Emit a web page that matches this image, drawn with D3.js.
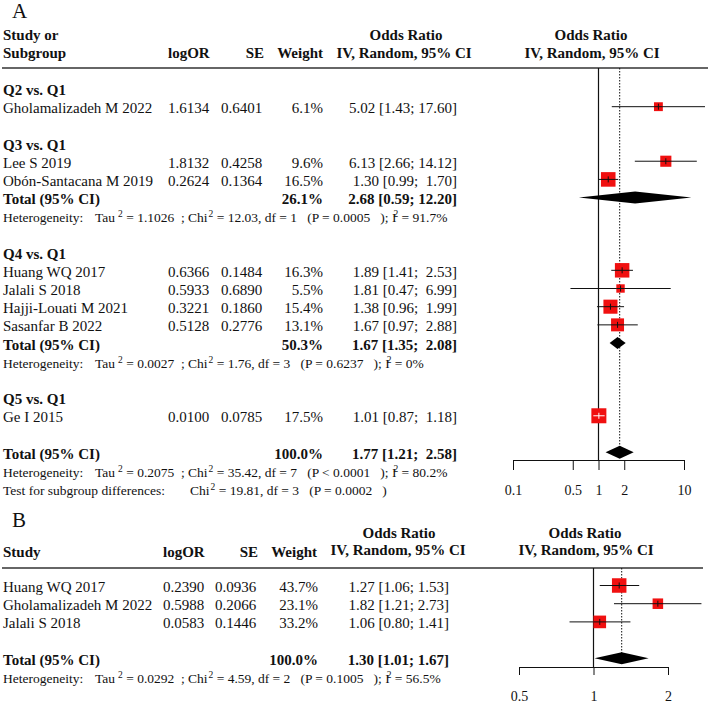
<!DOCTYPE html>
<html>
<head>
<meta charset="utf-8">
<script src="https://cdn.jsdelivr.net/npm/d3@7"></script>
<style>
  body { margin: 0; background: #fff; }
  svg text { font-family: "Liberation Serif", "Times New Roman", serif; fill: #111; white-space: pre; }
</style>
</head>
<body>
<svg id="chart" width="708" height="703"></svg>
<script>
// ---- panel A data
const groupsA = ["Q2 vs. Q1", "Q3 vs. Q1", "Q4 vs. Q1", "Q5 vs. Q1"];
const studiesA = ["Gholamalizadeh M 2022", "Lee S 2019", "Obón-Santacana M 2019", "Huang WQ 2017",
  "Jalali S 2018", "Hajji-Louati M 2021", "Sasanfar B 2022", "Ge I 2015"];
const studyGroupA = [0, 1, 1, 2, 2, 2, 2, 3];
const logOrA = ["1.6134", "1.8132", "0.2624", "0.6366", "0.5933", "0.3221", "0.5128", "0.0100"];
const seA = ["0.6401", "0.4258", "0.1364", "0.1484", "0.6890", "0.1860", "0.2776", "0.0785"];
const weightA = [6.1, 9.6, 16.5, 16.3, 5.5, 15.4, 13.1, 17.5];
const orA = [5.02, 6.13, 1.30, 1.89, 1.81, 1.38, 1.67, 1.01];
const loA = [1.43, 2.66, 0.99, 1.41, 0.47, 0.96, 0.97, 0.87];
const hiA = [17.60, 14.12, 1.70, 2.53, 6.99, 1.99, 2.88, 1.18];
// subgroup totals (only groups with >1 study: Q3, Q4), then overall
const subWeightA = [26.1, 50.3];
const subOrA = [2.68, 1.67];
const subLoA = [0.59, 1.35];
const subHiA = [12.20, 2.08];
const totWeightA = 100.0, totOrA = 1.77, totLoA = 1.21, totHiA = 2.58;
// heterogeneity lines: Q3, Q4, overall
const hetTauA = ["1.1026", "0.0027", "0.2075"];
const hetChiA = ["12.03", "1.76", "35.42"];
const hetDfA = [1, 3, 7];
const hetPA = ["= 0.0005", "= 0.6237", "< 0.0001"];
const hetI2A = ["91.7%", "0%", "80.2%"];
const testChi = "19.81", testDf = 3, testP = "= 0.0002";
const ticksA = [0.1, 0.5, 1, 2, 10];

// ---- panel B data
const studiesB = ["Huang WQ 2017", "Gholamalizadeh M 2022", "Jalali S 2018"];
const logOrB = ["0.2390", "0.5988", "0.0583"];
const seB = ["0.0936", "0.2066", "0.1446"];
const weightB = [43.7, 23.1, 33.2];
const orB = [1.27, 1.82, 1.06];
const loB = [1.06, 1.21, 0.80];
const hiB = [1.53, 2.73, 1.41];
const totWeightB = 100.0, totOrB = 1.30, totLoB = 1.01, totHiB = 1.67;
const hetTauB = "0.0292", hetChiB = "4.59", hetDfB = 2, hetPB = "= 0.1005", hetI2B = "56.5%";
const ticksB = [0.5, 1, 2];

const svg = d3.select("#chart");
const RED = "#f01010";

function ciText(or, lo, hi, pad) {
  const h = hi.toFixed(2);
  return or.toFixed(2) + " [" + lo.toFixed(2) + "; " + (pad ? h.padStart(5, " ") : h) + "]";
}

// text built from segments, some of them superscript
function richText(g, x, y, segs, size) {
  const t = g.append("text").attr("x", x).attr("y", y).style("font-size", size + "px");
  let up = false;
  segs.forEach(s => {
    const ts = t.append("tspan").text(s.t);
    if (s.x != null) ts.attr("x", s.x);
    if (s.dx) ts.attr("dx", s.dx);
    if (s.sup) {
      ts.style("font-size", (size - 4) + "px");
      if (!up) { ts.attr("dy", -5); up = true; }
    } else if (up) { ts.attr("dy", 5); up = false; }
  });
}

function hetSegs(tau, chi, df, p, i2) {
  return [{t: "Heterogeneity:"}, {t: "Tau", x: 95}, {t: "2", sup: true, dx: 3}, {t: " = " + tau + "  ;"},
    {t: "Chi", x: 188}, {t: "2", sup: true, dx: 1},
    {t: " = " + chi + ", df = " + df + "   (P " + p + "   ); I"}, {t: "2", sup: true, dx: -3}, {t: " = " + i2}];
}

function drawStudy(g, x, size, cy, or, lo, hi, w) {
  const s = size(w);
  const inside = x(hi) - x(lo) < s;
  g.append("line").attr("x1", x(lo)).attr("x2", x(hi)).attr("y1", cy).attr("y2", cy)
    .attr("stroke", "#111").attr("stroke-width", 1);
  g.append("rect").attr("x", x(or) - s / 2).attr("y", cy - s / 2).attr("width", s).attr("height", s)
    .attr("fill", RED);
  const c = inside ? "#fff" : "#111";
  g.append("line").attr("x1", Math.max(x(lo), x(or) - s / 2)).attr("x2", Math.min(x(hi), x(or) + s / 2))
    .attr("y1", cy).attr("y2", cy).attr("stroke", c).attr("stroke-width", 1);
  g.append("line").attr("x1", x(or)).attr("x2", x(or)).attr("y1", cy - 3).attr("y2", cy + 3)
    .attr("stroke", c).attr("stroke-width", 1);
}

function drawDiamond(g, x, cy, or, lo, hi, h) {
  g.append("path")
    .attr("d", `M${x(lo)},${cy}L${x(or)},${cy - h}L${x(hi)},${cy}L${x(or)},${cy + h}Z`)
    .attr("fill", "#000");
}

function styleAxis(a) {
  a.attr("font-family", null).attr("font-size", null);
  a.selectAll("text").style("font-size", "14px");
  a.selectAll("path, line").attr("stroke", "#111");
}

// ================= panel A
const A = svg.append("g");
const xA = d3.scaleLog().domain([0.1, 10]).range([513, 684]);
const sizeA = d3.scaleSqrt().domain([0, 17.5]).range([0, 15]);
const yA = d3.scaleLinear().domain([0, 22]).range([95, 495]);
const off = 6.5;
const hs = 13.5;

A.append("text").attr("x", 12).attr("y", 18).style("font-size", "21px").text("A");
const hdA = A.append("g").style("font-size", "15px").style("font-weight", "bold");
hdA.append("text").attr("x", 3).attr("y", 40).text("Study or");
hdA.append("text").attr("x", 3).attr("y", 58).text("Subgroup");
hdA.append("text").attr("x", 168).attr("y", 58).text("logOR");
hdA.append("text").attr("x", 264).attr("y", 58).attr("text-anchor", "end").text("SE");
hdA.append("text").attr("x", 323).attr("y", 58).attr("text-anchor", "end").text("Weight");
hdA.append("text").attr("x", 406).attr("y", 40).attr("text-anchor", "middle").text("Odds Ratio");
hdA.append("text").attr("x", 404).attr("y", 58).attr("text-anchor", "middle").text("IV, Random, 95% CI");
hdA.append("text").attr("x", 591).attr("y", 40).attr("text-anchor", "middle").text("Odds Ratio");
hdA.append("text").attr("x", 592).attr("y", 58).attr("text-anchor", "middle").text("IV, Random, 95% CI");
A.append("line").attr("x1", 2).attr("x2", 708).attr("y1", 68).attr("y2", 68)
  .attr("stroke", "#333").attr("stroke-width", 1.5);

// reference lines
A.append("line").attr("x1", xA(1)).attr("x2", xA(1)).attr("y1", 68).attr("y2", 460)
  .attr("stroke", "#111").attr("stroke-width", 1.2);
A.append("line").attr("x1", xA(totOrA)).attr("x2", xA(totOrA)).attr("y1", 68).attr("y2", yA(20) - off)
  .attr("stroke", "#111").attr("stroke-width", 1).attr("stroke-dasharray", "1.5,1.5");

const rowsA = A.append("g").style("font-size", "15px");
let r = 0, sub = 0;
groupsA.forEach((gname, gi) => {
  rowsA.append("text").attr("x", 3).attr("y", yA(r)).style("font-weight", "bold").text(gname);
  r++;
  const idx = studyGroupA.map((g, i) => g === gi ? i : -1).filter(i => i >= 0);
  idx.forEach(i => {
    const y = yA(r);
    rowsA.append("text").attr("x", 3).attr("y", y).text(studiesA[i]);
    rowsA.append("text").attr("x", 168).attr("y", y).text(logOrA[i]);
    rowsA.append("text").attr("x", 221).attr("y", y).text(seA[i]);
    rowsA.append("text").attr("x", 323).attr("y", y).attr("text-anchor", "end").text(weightA[i].toFixed(1) + "%");
    rowsA.append("text").attr("x", 457).attr("y", y).attr("text-anchor", "end").text(ciText(orA[i], loA[i], hiA[i], true));
    drawStudy(A, xA, sizeA, y - off, orA[i], loA[i], hiA[i], weightA[i]);
    r++;
  });
  if (idx.length > 1) {
    const y = yA(r);
    const b = rowsA.append("g").style("font-weight", "bold");
    b.append("text").attr("x", 3).attr("y", y).text("Total (95% CI)");
    b.append("text").attr("x", 323).attr("y", y).attr("text-anchor", "end").text(subWeightA[sub].toFixed(1) + "%");
    b.append("text").attr("x", 457).attr("y", y).attr("text-anchor", "end").text(ciText(subOrA[sub], subLoA[sub], subHiA[sub], true));
    drawDiamond(A, xA, y - off, subOrA[sub], subLoA[sub], subHiA[sub], 6);
    r++;
    richText(A, 3, yA(r), hetSegs(hetTauA[sub], hetChiA[sub], hetDfA[sub], hetPA[sub], hetI2A[sub]), hs);
    r++;
    sub++;
  }
  r++;
});
{
  const y = yA(r);
  const b = rowsA.append("g").style("font-weight", "bold");
  b.append("text").attr("x", 3).attr("y", y).text("Total (95% CI)");
  b.append("text").attr("x", 323).attr("y", y).attr("text-anchor", "end").text(totWeightA.toFixed(1) + "%");
  b.append("text").attr("x", 457).attr("y", y).attr("text-anchor", "end").text(ciText(totOrA, totLoA, totHiA, true));
  drawDiamond(A, xA, y - off, totOrA, totLoA, totHiA, 6.5);
  richText(A, 3, yA(r + 1), hetSegs(hetTauA[2], hetChiA[2], hetDfA[2], hetPA[2], hetI2A[2]), hs);
  richText(A, 3, yA(r + 2), [{t: "Test for subgroup differences:"}, {t: "Chi", x: 190}, {t: "2", sup: true, dx: 1},
    {t: " = " + testChi + ", df = " + testDf + "   (P " + testP + "   )"}], hs);
}

const axA = A.append("g").attr("transform", "translate(0,460)")
  .call(d3.axisBottom(xA).tickValues(ticksA).tickFormat(d => d).tickSize(10).tickSizeOuter(0).tickPadding(15));
styleAxis(axA);

// ================= panel B
const B = svg.append("g");
const xB = d3.scaleLog().domain([0.5, 2]).range([519, 668]);
const sizeB = d3.scaleSqrt().domain([0, 43.7]).range([0, 14.5]);
const yB = d3.scaleLinear().domain([0, 5]).range([592, 683]);

B.append("text").attr("x", 12).attr("y", 527).style("font-size", "21px").text("B");
const hdB = B.append("g").style("font-size", "15px").style("font-weight", "bold");
hdB.append("text").attr("x", 3).attr("y", 557).text("Study");
hdB.append("text").attr("x", 163).attr("y", 557).text("logOR");
hdB.append("text").attr("x", 258).attr("y", 557).attr("text-anchor", "end").text("SE");
hdB.append("text").attr("x", 317).attr("y", 557).attr("text-anchor", "end").text("Weight");
hdB.append("text").attr("x", 399).attr("y", 538).attr("text-anchor", "middle").text("Odds Ratio");
hdB.append("text").attr("x", 398).attr("y", 555).attr("text-anchor", "middle").text("IV, Random, 95% CI");
hdB.append("text").attr("x", 585).attr("y", 538).attr("text-anchor", "middle").text("Odds Ratio");
hdB.append("text").attr("x", 586).attr("y", 555).attr("text-anchor", "middle").text("IV, Random, 95% CI");
B.append("line").attr("x1", 2).attr("x2", 703).attr("y1", 568).attr("y2", 568)
  .attr("stroke", "#333").attr("stroke-width", 1.5);

B.append("line").attr("x1", xB(1)).attr("x2", xB(1)).attr("y1", 568).attr("y2", 667)
  .attr("stroke", "#111").attr("stroke-width", 1.2);
B.append("line").attr("x1", xB(totOrB)).attr("x2", xB(totOrB)).attr("y1", 568).attr("y2", yB(4) - off)
  .attr("stroke", "#111").attr("stroke-width", 1).attr("stroke-dasharray", "1.5,1.5");

const rowsB = B.append("g").style("font-size", "15px");
studiesB.forEach((name, i) => {
  const y = yB(i);
  rowsB.append("text").attr("x", 3).attr("y", y).text(name);
  rowsB.append("text").attr("x", 163).attr("y", y).text(logOrB[i]);
  rowsB.append("text").attr("x", 215).attr("y", y).text(seB[i]);
  rowsB.append("text").attr("x", 318).attr("y", y).attr("text-anchor", "end").text(weightB[i].toFixed(1) + "%");
  rowsB.append("text").attr("x", 449).attr("y", y).attr("text-anchor", "end").text(ciText(orB[i], loB[i], hiB[i], false));
  drawStudy(B, xB, sizeB, y - off, orB[i], loB[i], hiB[i], weightB[i]);
});
{
  const y = yB(4);
  const b = rowsB.append("g").style("font-weight", "bold");
  b.append("text").attr("x", 3).attr("y", y).text("Total (95% CI)");
  b.append("text").attr("x", 318).attr("y", y).attr("text-anchor", "end").text(totWeightB.toFixed(1) + "%");
  b.append("text").attr("x", 449).attr("y", y).attr("text-anchor", "end").text(ciText(totOrB, totLoB, totHiB, false));
  drawDiamond(B, xB, y - off, totOrB, totLoB, totHiB, 6);
  richText(B, 3, yB(5), hetSegs(hetTauB, hetChiB, hetDfB, hetPB, hetI2B), hs);
}

const axB = B.append("g").attr("transform", "translate(0,667)")
  .call(d3.axisBottom(xB).tickValues(ticksB).tickFormat(d => d).tickSize(8).tickSizeOuter(0).tickPadding(16));
styleAxis(axB);
</script>
</body>
</html>
